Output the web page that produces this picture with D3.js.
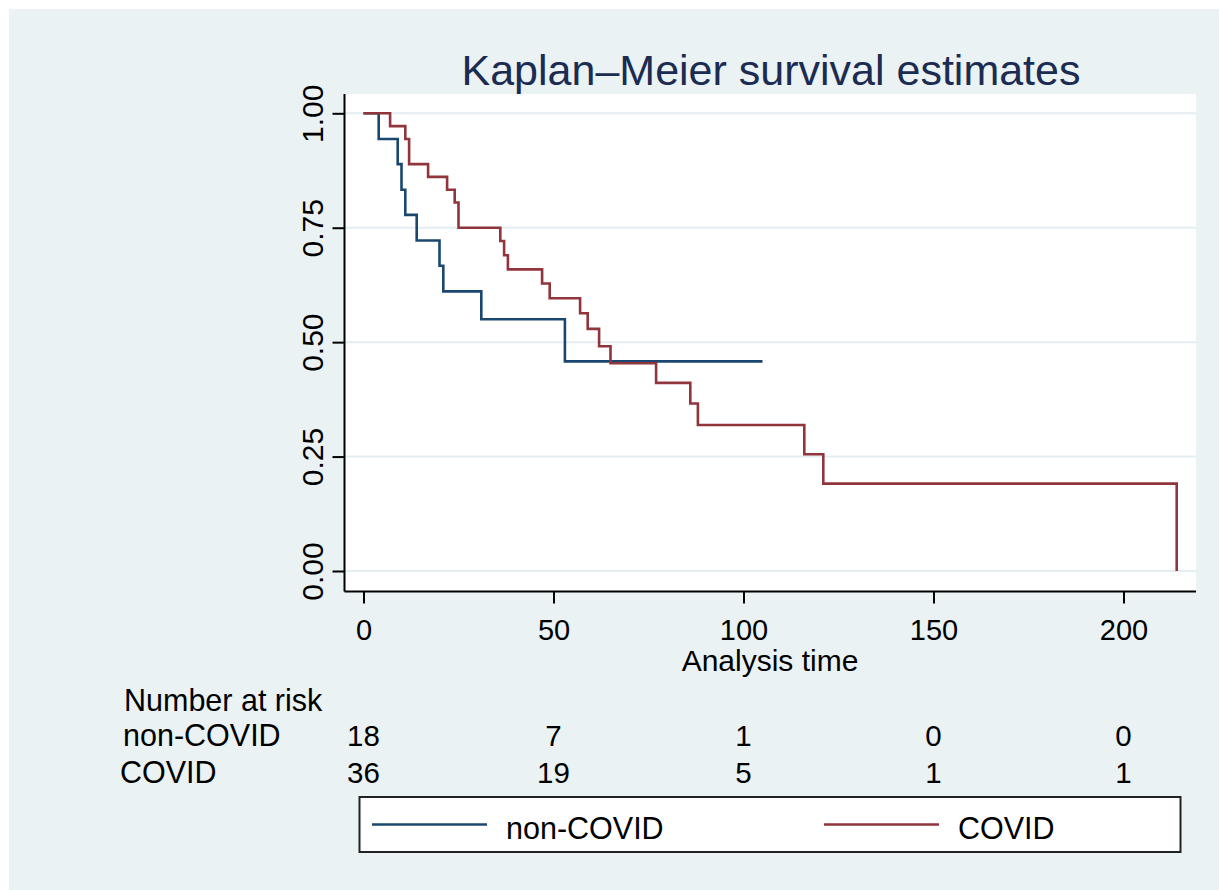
<!DOCTYPE html>
<html>
<head>
<meta charset="utf-8">
<script src="https://cdn.jsdelivr.net/npm/d3@7"></script>
<style>
html,body{margin:0;padding:0;background:#fff;}
svg{display:block;font-family:"Liberation Sans",Arial,sans-serif;}
</style>
</head>
<body>
<svg id="chart" width="1219" height="890"></svg>
<script>
// ---- data ----
const groups = ["non-COVID", "COVID"];
const nonCovidTime = [0, 4, 9, 10, 11, 14, 20, 21, 31, 53, 105];
const nonCovidSurv = [1, 0.944, 0.889, 0.833, 0.778, 0.722, 0.667, 0.611, 0.55, 0.458, 0.458];
const covidTime = [0, 7, 11, 12, 17, 22, 24, 25, 36, 37, 38, 47, 49, 57, 59, 62, 65, 77, 86, 88, 116, 121, 214];
const covidSurv = [1, 0.972, 0.944, 0.889, 0.861, 0.833, 0.805, 0.75, 0.721, 0.69, 0.659, 0.628, 0.596, 0.563, 0.529, 0.491, 0.454, 0.411, 0.366, 0.319, 0.255, 0.191, 0];
const xTicks = [0, 50, 100, 150, 200];
const yTicks = [0, 0.25, 0.5, 0.75, 1];
const riskNonCovid = [18, 7, 1, 0, 0];
const riskCovid = [36, 19, 5, 1, 1];
const colors = ["#1a476f", "#90353b"];

const svg = d3.select("#chart");
const bg = "#eaf2f3";
svg.append("rect").attr("x", 9).attr("y", 9).attr("width", 1210).attr("height", 881).attr("fill", bg);

const plotL = 344.5, plotR = 1196, plotT = 94, plotB = 591.5;
svg.append("rect").attr("x", plotL).attr("y", plotT).attr("width", plotR - plotL).attr("height", plotB - plotT).attr("fill", "#fff");

const x = d3.scaleLinear().domain([0, 200]).range([363.5, 1123.5]);
const y = d3.scaleLinear().domain([0, 1]).range([571, 113.3]);

// gridlines
svg.append("g").selectAll("line").data(yTicks).join("line")
  .attr("x1", plotL).attr("x2", plotR)
  .attr("y1", d => y(d)).attr("y2", d => y(d))
  .attr("stroke", "#e4eef1").attr("stroke-width", 2);

// title
svg.append("text").attr("x", 771).attr("y", 85).attr("text-anchor", "middle")
  .attr("font-size", 43).attr("fill", "#1c2b52").text("Kaplan\u2013Meier survival estimates");

// y axis
const yAxis = d3.axisLeft(y).tickValues(yTicks).tickSize(12).tickFormat(d3.format(".2f"));
const gy = svg.append("g").attr("transform", `translate(${plotL},0)`).call(yAxis);
gy.select(".domain").attr("d", `M0,${plotT}V${plotB}`).attr("stroke", "#000").attr("stroke-width", 2);
gy.selectAll(".tick line").attr("stroke", "#000").attr("stroke-width", 2);
gy.selectAll(".tick text")
  .attr("x", 0).attr("y", 0).attr("dy", null)
  .attr("text-anchor", "middle")
  .attr("transform", "translate(-21.5,0) rotate(-90)")
  .attr("font-size", 30).attr("fill", "#000")
  .attr("font-family", "Liberation Sans, Arial, sans-serif");

// x axis
const xAxis = d3.axisBottom(x).tickValues(xTicks).tickSize(12).tickFormat(d3.format("d"));
const gx = svg.append("g").attr("transform", `translate(0,${plotB})`).call(xAxis);
gx.select(".domain").attr("d", `M${plotL},0H${plotR}`).attr("stroke", "#000").attr("stroke-width", 2);
gx.selectAll(".tick line").attr("stroke", "#000").attr("stroke-width", 2);
gx.selectAll(".tick text").attr("y", 48).attr("dy", null)
  .attr("font-size", 29).attr("fill", "#000")
  .attr("font-family", "Liberation Sans, Arial, sans-serif");

svg.append("text").attr("x", 770).attr("y", 671).attr("text-anchor", "middle")
  .attr("font-size", 30).attr("fill", "#000").text("Analysis time");

// curves
const line = d3.line().x(d => x(d[0])).y(d => y(d[1])).curve(d3.curveStepAfter);
const series = [
  d3.zip(nonCovidTime, nonCovidSurv),
  d3.zip(covidTime, covidSurv)
];
svg.append("g").selectAll("path").data(series).join("path")
  .attr("d", line).attr("fill", "none")
  .attr("stroke", (d, i) => colors[i]).attr("stroke-width", 2.6)
  .attr("stroke-linejoin", "miter").attr("stroke-linecap", "butt");

// number at risk
svg.append("text").attr("x", 124).attr("y", 711).attr("font-size", 30.5).attr("fill", "#000").text("Number at risk");
const riskRows = [riskNonCovid, riskCovid];
const riskY = [746, 783];
const riskLabelX = [123, 120];
riskRows.forEach((row, i) => {
  svg.append("text").attr("x", riskLabelX[i]).attr("y", riskY[i]).attr("font-size", 30.5).attr("fill", "#000").text(groups[i]);
  svg.append("g").selectAll("text").data(row).join("text")
    .attr("x", (d, j) => x(xTicks[j])).attr("y", riskY[i])
    .attr("text-anchor", "middle").attr("font-size", 29.5).attr("fill", "#000")
    .text(d => d);
});

// legend
const lg = svg.append("g");
lg.append("rect").attr("x", 359.5).attr("y", 797).attr("width", 821).attr("height", 55)
  .attr("fill", "#fff").attr("stroke", "#222").attr("stroke-width", 2);
const legX = [372, 824];
groups.forEach((g, i) => {
  lg.append("line").attr("x1", legX[i]).attr("x2", legX[i] + 115).attr("y1", 824.5).attr("y2", 824.5)
    .attr("stroke", colors[i]).attr("stroke-width", 2.6);
  lg.append("text").attr("x", legX[i] + 134).attr("y", 839).attr("font-size", 30.5).attr("fill", "#000").text(g);
});
</script>
</body>
</html>
